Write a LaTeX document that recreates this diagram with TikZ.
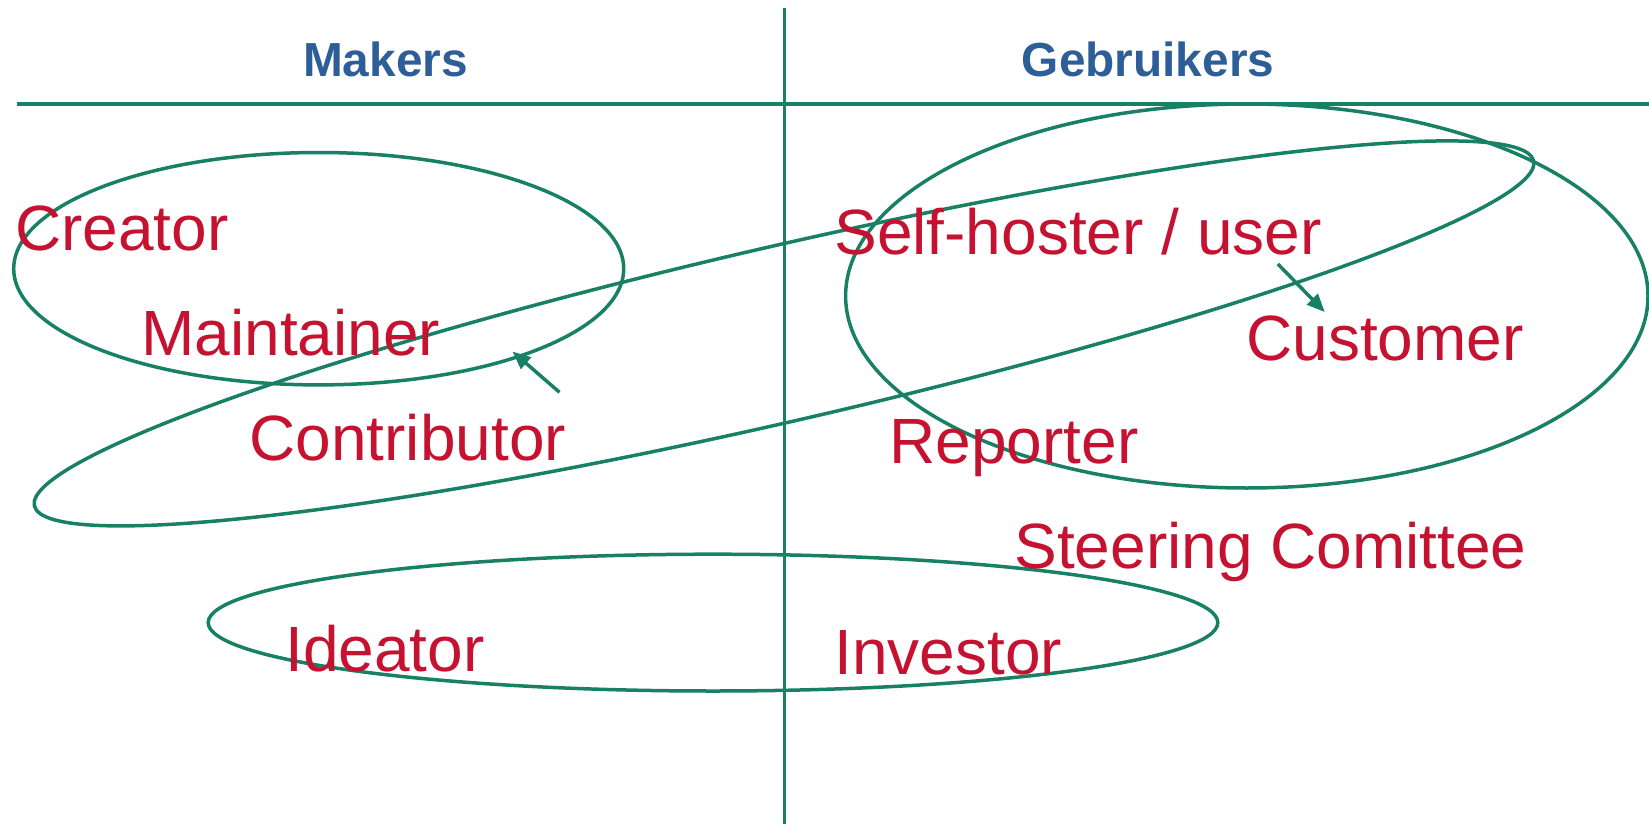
\documentclass[tikz,border=0pt]{standalone}
\usepackage{fontspec}
\setmainfont{Liberation Sans}
\usetikzlibrary{arrows.meta}
\definecolor{lgreen}{RGB}{24,128,100}
\definecolor{lred}{RGB}{196,18,48}
\definecolor{lblue}{RGB}{46,94,152}
\begin{document}
\begin{tikzpicture}[x=0.5pt,y=-0.5pt,
  role/.style={font=\fontsize{32}{38}\selectfont, text=lred, inner sep=0pt, anchor=base west},
  head/.style={font=\bfseries\fontsize{23.9}{28}\selectfont, text=lblue, inner sep=0pt, anchor=base},
  hrule/.style={draw=lgreen, line width=2pt},
  vrule/.style={draw=lgreen, line width=1.6pt},
  loop/.style={draw=lgreen, line width=1.75pt},
  pointer/.style={draw=lgreen, line width=1.75pt, -{Triangle[length=9pt,width=7.5pt]}}]
\useasboundingbox (0,0) rectangle (1649,824);
% lines
\coordinate (vtop) at (784.6,8.4);
\coordinate (vbot) at (784.6,824);
\coordinate (hl) at (16.8,104);
\coordinate (hr) at (1649,104);
\draw[vrule] (vtop) -- (vbot);
\draw[hrule] (hl) -- (hr);
% headers
\node[head] (makers) at (385.5,77) {Makers};
\node[head] (gebr) at (1148,77) {Gebruikers};
% ellipses
\draw[loop] (318.7,268.7) ellipse [x radius=305, y radius=116.2];
\draw[loop] (1246.8,296) ellipse [x radius=401.2, y radius=192];
\draw[loop] (713,622.6) ellipse [x radius=504.8, y radius=68.4];
\draw[loop, rotate around={12.96:(784,333.4)}] (784,333.4) ellipse [x radius=769.2, y radius=87.6];
% roles
\node[role] (creator) at (14.7,250) {Creator};
\node[role] (maintainer) at (141,355.5) {Maintainer};
\node[role] (contributor) at (249,460) {Contributor};
\node[role] (selfhoster) at (834,254.5) {Self-hoster / user};
\node[role] (customer) at (1246,360) {Customer};
\node[role] (reporter) at (889,463) {Reporter};
\node[role] (steering) at (1014,568.5) {Steering Comittee};
\node[role] (ideator) at (285,671) {Ideator};
\node[role] (investor) at (834,674) {Investor};
% arrows
\coordinate (a1s) at (559.5,392.3);
\coordinate (a1e) at (512.5,351.5);
\coordinate (a2s) at (1277.8,264);
\coordinate (a2e) at (1324.8,312);
\draw[pointer] (a1s) -- (a1e);
\draw[pointer] (a2s) -- (a2e);
\end{tikzpicture}
\end{document}
